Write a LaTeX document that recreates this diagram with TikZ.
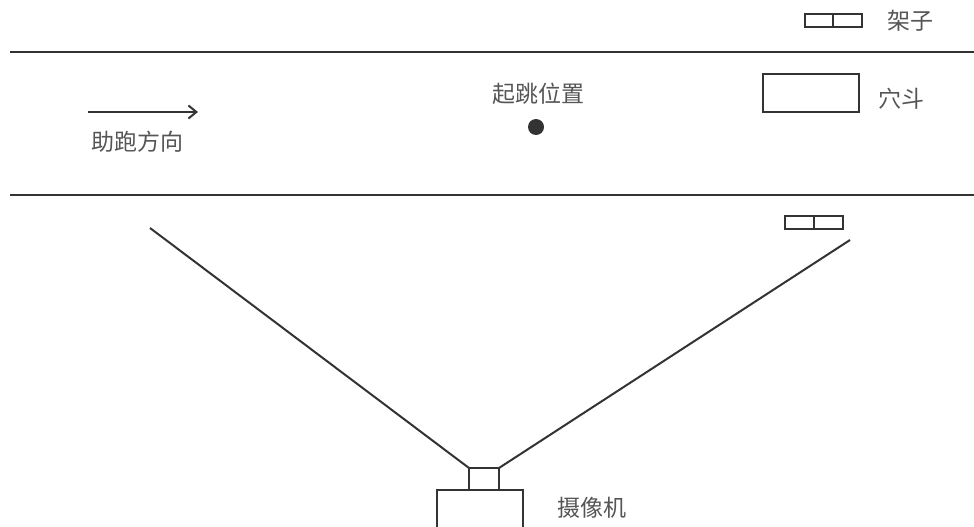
\documentclass[tikz,border=0pt]{standalone}
\usepackage{fontspec}
\newfontfamily\cjk{Noto Sans CJK SC}
\usetikzlibrary{arrows.meta}
\definecolor{ink}{HTML}{333333}
\definecolor{txt}{HTML}{555555}
\begin{document}
\begin{tikzpicture}[x=1pt,y=-1pt,
  line/.style={draw=ink,line width=2pt},
  lbl/.style={text=txt,font=\cjk\fontsize{23}{26}\selectfont,inner sep=0pt,anchor=center}]
\useasboundingbox (0,0) rectangle (974,527);
% track lines
\coordinate (t1) at (10,52); \coordinate (t2) at (974,52);
\coordinate (b1) at (10,195); \coordinate (b2) at (974,195);
\draw[line] (t1) -- (t2);
\draw[line] (b1) -- (b2);
% top rack legend
\draw[line] (805,14) rectangle (862,27);
\draw[line] (833,14) -- (833,27);
\node[lbl] (rack) at (910,21) {架子};
% pit
\draw[line,line width=2.4pt] (763,74) rectangle (859,112);
\node[lbl] (pit) at (901,99) {穴斗};
% run direction
\coordinate (a1) at (88,112); \coordinate (a2) at (198,112);
\draw[line,-{Straight Barb[length=8pt,width=13pt,line width=2pt]}] (a1) -- (a2);
\node[lbl] (run) at (137,142) {助跑方向};
% takeoff
\node[lbl] (takeoff) at (538,94) {起跳位置};
\node[circle,fill=ink,minimum size=16pt,inner sep=0pt] (dot) at (536,127) {};
% bottom rack
\draw[line] (785,216) rectangle (843,229);
\draw[line] (814,216) -- (814,229);
% camera
\coordinate (lensL) at (469,468); \coordinate (lensR) at (499,468);
\draw[line] (469,468) rectangle (499,490);
\draw[line] (437,527) -- (437,490) -- (523,490) -- (523,527);
\node[lbl] (cam) at (592,508) {摄像机};
% view lines
\coordinate (vL) at (150,228); \coordinate (vR) at (850,240);
\draw[line] (vL) -- (lensL);
\draw[line] (vR) -- (lensR);
\end{tikzpicture}
\end{document}
